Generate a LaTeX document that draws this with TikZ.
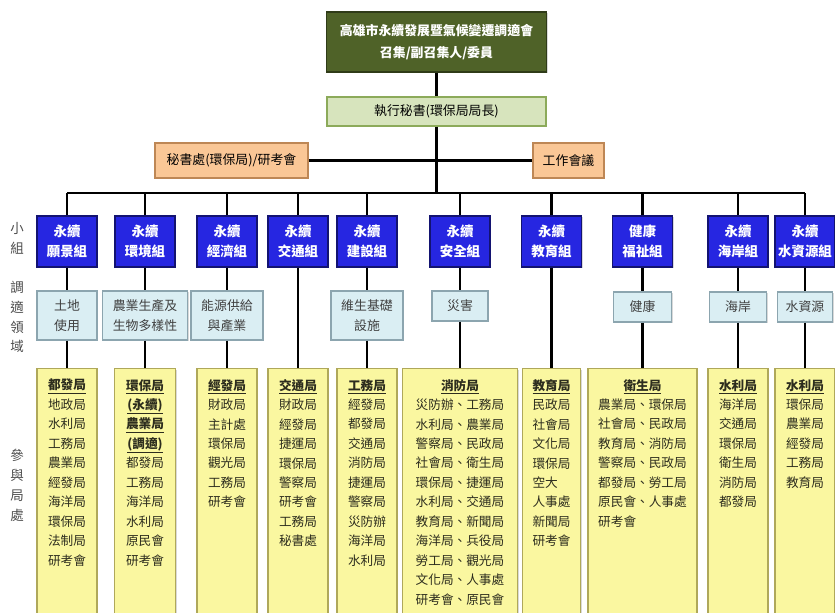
\documentclass[tikz,border=0pt]{standalone}
\usepackage{fontspec}
\setmainfont{Noto Sans CJK TC}
\usepackage{xcolor}
\usepackage{tikz}
\usetikzlibrary{shadows}

\definecolor{chairgreen}{RGB}{79,98,40}
\definecolor{execgreen}{RGB}{215,228,189}
\definecolor{execedge}{RGB}{140,170,90}
\definecolor{peach}{RGB}{250,199,150}
\definecolor{peachedge}{RGB}{190,135,85}
\definecolor{groupblue}{RGB}{38,38,225}
\definecolor{fieldcyan}{RGB}{218,238,243}
\definecolor{fieldedge}{RGB}{140,165,175}
\definecolor{memberyellow}{RGB}{250,247,160}
\definecolor{memberedge}{RGB}{175,168,90}
\definecolor{listtext}{RGB}{45,45,30}

\newcommand\pxunit{0.03cm}
\newcommand\headname[1]{\underline{\textbf{#1}}}

\begin{document}
\begin{tikzpicture}[x=0.03cm, y=-0.03cm,
    link/.style={line width=2pt},
    box/.style={draw, line width=1pt, inner sep=0pt, align=center,
        drop shadow={shadow xshift=1.2pt, shadow yshift=-1.2pt, opacity=0.3}},
    chairbox/.style={box, fill=chairgreen, draw=chairgreen!60!black, text=white,
        minimum width=220*\pxunit, minimum height=60*\pxunit,
        font=\fontsize{11}{19}\selectfont\bfseries},
    execbox/.style={box, fill=execgreen, draw=execedge,
        minimum width=219*\pxunit, minimum height=29*\pxunit,
        font=\fontsize{11}{14}\selectfont},
    sidebox/.style={box, fill=peach, draw=peachedge,
        minimum width=#1*\pxunit, minimum height=35*\pxunit,
        font=\fontsize{11}{14}\selectfont},
    groupbox/.style={box, fill=groupblue, draw=groupblue!50!black, text=white,
        minimum width=60*\pxunit, minimum height=51*\pxunit,
        font=\fontsize{11.5}{17}\selectfont\bfseries},
    fieldbox/.style={box, fill=fieldcyan, draw=fieldedge, text=black!75,
        minimum width=#1*\pxunit, font=\fontsize{11}{17}\selectfont},
    memberbox/.style={box, fill=memberyellow, draw=memberedge, anchor=north,
        minimum width=#1*\pxunit, minimum height=260*\pxunit},
    memberlist/.style={anchor=north, align=center, inner sep=0pt, text=listtext,
        font=\fontsize{10.8}{16.6}\selectfont},
    rowlabel/.style={align=center, inner sep=0pt, text=black!70,
        font=\fontsize{11.5}{17}\selectfont}
  ]
    \useasboundingbox (0,0) rectangle (835,612);
    \clip (0,0) rectangle (835,612);

    % committee and secretariat
    \node [chairbox] (chair) at (436.5,42) {高雄市永續發展暨氣候變遷調適會\\召集/副召集人/委員};
    \node [execbox] (exec) at (436.5,111.5) {執行秘書(環保局局長)};
    \node [sidebox=153] (office) at (231.5,160.5) {秘書處(環保局)/研考會};
    \node [sidebox=71] (meeting) at (568.5,160.5) {工作會議};
    \coordinate (bus) at (0,193);

    % row labels
    \node [rowlabel] (lblgroup) at (17,238) {小\\組};
    \node [rowlabel] (lblfield) at (17,317) {調\\適\\領\\域};
    \node [rowlabel] (lblmember) at (17,485) {參\\與\\局\\處};

    % groups
    \node [groupbox] (g1) at (67,241.5) {永續\\願景組};
    \node [groupbox] (g2) at (145,241.5) {永續\\環境組};
    \node [groupbox] (g3) at (227,241.5) {永續\\經濟組};
    \node [groupbox] (g4) at (298,241.5) {永續\\交通組};
    \node [groupbox] (g5) at (367,241.5) {永續\\建設組};
    \node [groupbox] (g6) at (460,241.5) {永續\\安全組};
    \node [groupbox] (g7) at (551.5,241.5) {永續\\教育組};
    \node [groupbox] (g8) at (642.5,241.5) {健康\\福祉組};
    \node [groupbox] (g9) at (738,241.5) {永續\\海岸組};
    \node [groupbox] (g10) at (805,241.5) {永續\\水資源組};

    % adaptation fields
    \node [fieldbox=60, minimum height=49*\pxunit] (f1) at (67,315.5) {土地\\使用};
    \node [fieldbox=85, minimum height=49*\pxunit] (f2) at (145,315.5) {農業生產及\\生物多樣性};
    \node [fieldbox=72, minimum height=49*\pxunit] (f3) at (227,315.5) {能源供給\\與產業};
    \node [fieldbox=72, minimum height=49*\pxunit] (f5) at (367,315.5) {維生基礎\\設施};
    \node [fieldbox=56, minimum height=30*\pxunit] (f6) at (460,306) {災害};
    \node [fieldbox=58, minimum height=30*\pxunit] (f8) at (642.5,307) {健康};
    \node [fieldbox=57, minimum height=30*\pxunit] (f9) at (738,307) {海岸};
    \node [fieldbox=55, minimum height=30*\pxunit] (f10) at (805,307) {水資源};

    % participating bureaus
    \node [memberbox=60] (m1) at (67,368) {};
    \node [memberbox=61] (m2) at (145,368) {};
    \node [memberbox=60] (m3) at (227,368) {};
    \node [memberbox=60] (m4) at (298,368) {};
    \node [memberbox=60] (m5) at (367,368) {};
    \node [memberbox=115] (m6) at (460,368) {};
    \node [memberbox=58] (m7) at (551.5,368) {};
    \node [memberbox=109] (m8) at (642.5,368) {};
    \node [memberbox=60] (m9) at (738,368) {};
    \node [memberbox=60] (m10) at (805,368) {};

    \node [memberlist] (t1) at (67,379) {\headname{都發局}\\
        \begin{tabular}[t]{@{}l@{}}地政局\\水利局\\工務局\\農業局\\經發局\\海洋局\\環保局\\法制局\\研考會\end{tabular}};
    \node [memberlist] (t2) at (145,379) {\headname{環保局}\\\headname{(永續)}\\\headname{農業局}\\\headname{(調適)}\\
        \begin{tabular}[t]{@{}l@{}}都發局\\工務局\\海洋局\\水利局\\原民會\\研考會\end{tabular}};
    \node [memberlist] (t3) at (227,379) {\headname{經發局}\\
        \begin{tabular}[t]{@{}l@{}}財政局\\主計處\\環保局\\觀光局\\工務局\\研考會\end{tabular}};
    \node [memberlist] (t4) at (298,379) {\headname{交通局}\\
        \begin{tabular}[t]{@{}l@{}}財政局\\經發局\\捷運局\\環保局\\警察局\\研考會\\工務局\\秘書處\end{tabular}};
    \node [memberlist] (t5) at (367,379) {\headname{工務局}\\
        \begin{tabular}[t]{@{}l@{}}經發局\\都發局\\交通局\\消防局\\捷運局\\警察局\\災防辦\\海洋局\\水利局\end{tabular}};
    \node [memberlist] (t6) at (460,379) {\headname{消防局}\\
        \begin{tabular}[t]{@{}l@{}}災防辦、工務局\\水利局、農業局\\警察局、民政局\\社會局、衛生局\\環保局、捷運局\\水利局、交通局\\教育局、新聞局\\海洋局、兵役局\\勞工局、觀光局\\文化局、人事處\\研考會、原民會\end{tabular}};
    \node [memberlist] (t7) at (551.5,379) {\headname{教育局}\\
        \begin{tabular}[t]{@{}l@{}}民政局\\社會局\\文化局\\環保局\\空大\\人事處\\新聞局\\研考會\end{tabular}};
    \node [memberlist] (t8) at (642.5,379) {\headname{衛生局}\\
        \begin{tabular}[t]{@{}l@{}}農業局、環保局\\社會局、民政局\\教育局、消防局\\警察局、民政局\\都發局、勞工局\\原民會、人事處\\研考會\end{tabular}};
    \node [memberlist] (t9) at (738,379) {\headname{水利局}\\
        \begin{tabular}[t]{@{}l@{}}海洋局\\交通局\\環保局\\衛生局\\消防局\\都發局\end{tabular}};
    \node [memberlist] (t10) at (805,379) {\headname{水利局}\\
        \begin{tabular}[t]{@{}l@{}}環保局\\農業局\\經發局\\工務局\\教育局\end{tabular}};

    % connectors
    \draw [link] (chair.south) -- (exec.north);
    \draw [link] (exec.south) -- (exec.south |- bus);
    \draw [link] (office.east) -- (meeting.west);
    \draw [link] (g1.north |- bus) -- (g10.north |- bus);
    \draw [link] (g1.north |- bus) -- (g1.north) (g2.north |- bus) -- (g2.north)
        (g3.north |- bus) -- (g3.north) (g4.north |- bus) -- (g4.north)
        (g5.north |- bus) -- (g5.north) (g6.north |- bus) -- (g6.north)
        (g7.north |- bus) -- (g7.north) (g8.north |- bus) -- (g8.north)
        (g9.north |- bus) -- (g9.north) (g10.north |- bus) -- (g10.north);
    \draw [link] (g1.south) -- (f1.north) (f1.south) -- (m1.north);
    \draw [link] (g2.south) -- (f2.north) (f2.south) -- (m2.north);
    \draw [link] (g3.south) -- (f3.north) (f3.south) -- (m3.north);
    \draw [link] (g4.south) -- (m4.north);
    \draw [link] (g5.south) -- (f5.north) (f5.south) -- (m5.north);
    \draw [link] (g6.south) -- (f6.north) (f6.south) -- (m6.north);
    \draw [link] (g7.south) -- (m7.north);
    \draw [link] (g8.south) -- (f8.north) (f8.south) -- (m8.north);
    \draw [link] (g9.south) -- (f9.north) (f9.south) -- (m9.north);
    \draw [link] (g10.south) -- (f10.north) (f10.south) -- (m10.north);
\end{tikzpicture}
\end{document}
